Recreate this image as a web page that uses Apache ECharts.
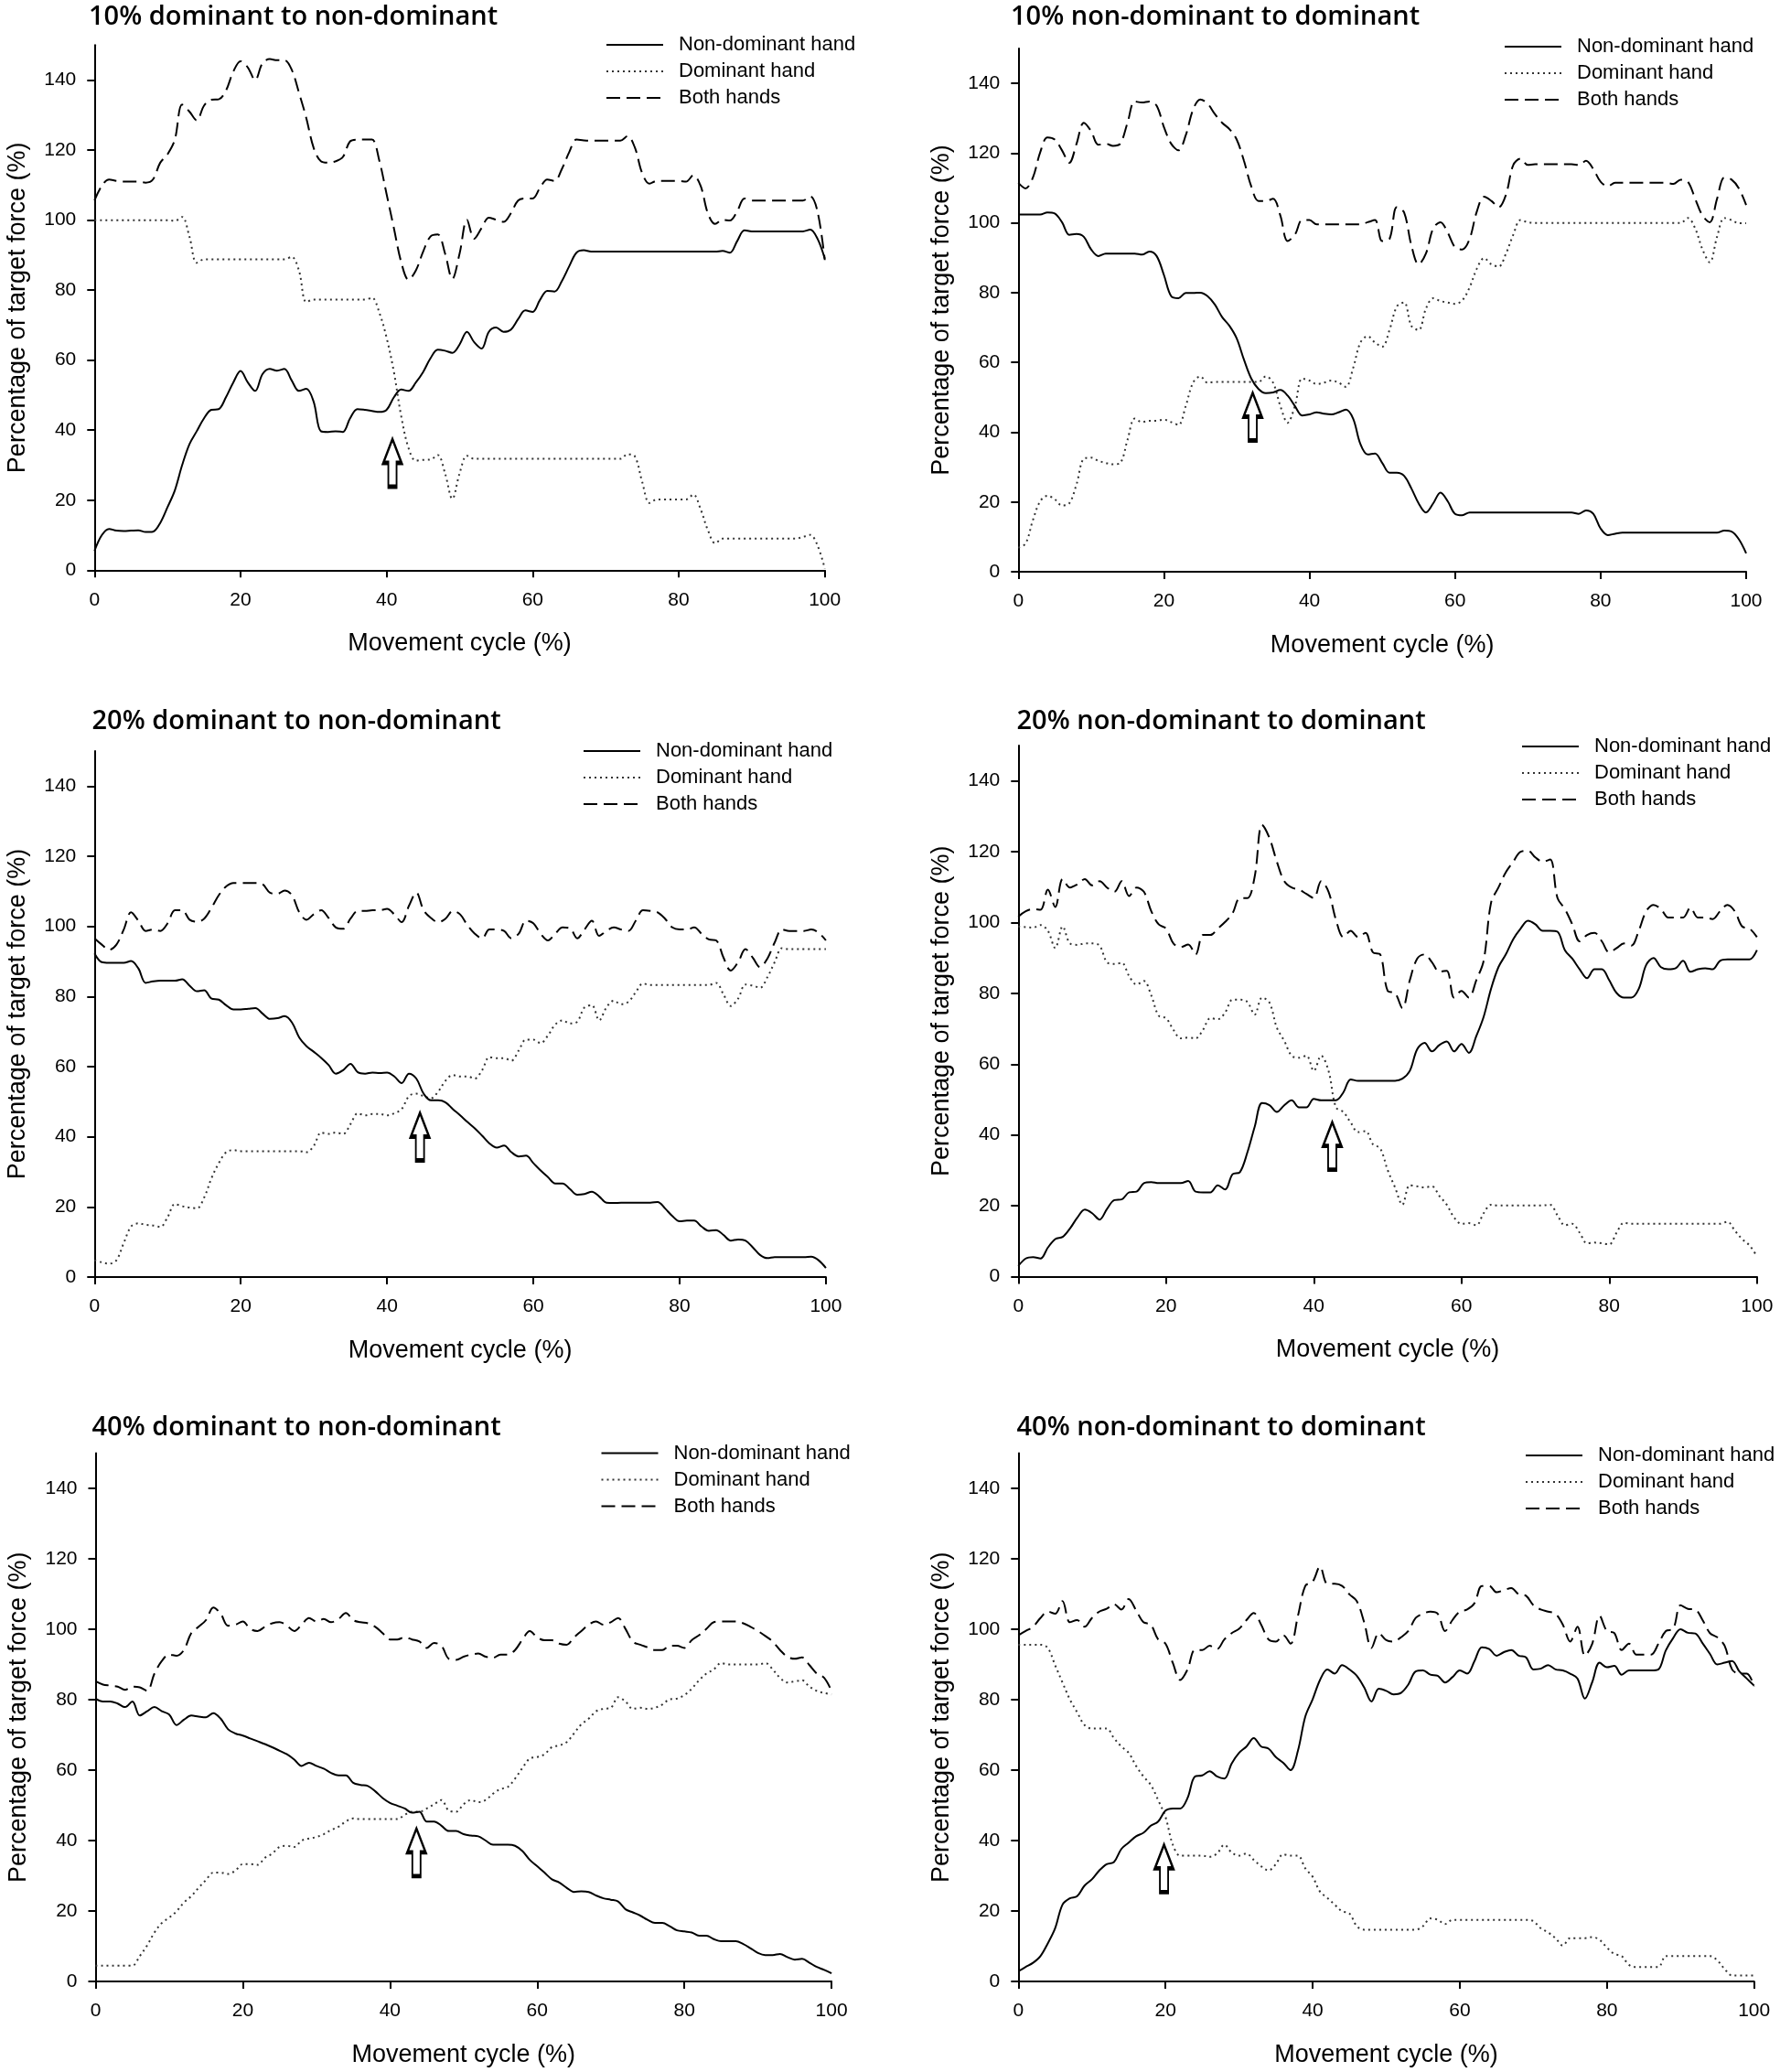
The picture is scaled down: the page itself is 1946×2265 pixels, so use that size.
<!DOCTYPE html>
<html><head><meta charset="utf-8">
<script src="https://cdn.jsdelivr.net/npm/echarts@6/dist/echarts.min.js"></script>
<style>html,body{margin:0;padding:0;background:#fff}#c{width:1946px;height:2265px}</style>
</head><body><div id="c"></div>
<script>
// ---------------- DATA ----------------
const cycle = [0,1,2,3,4,5,6,7,8,9,10,11,12,13,14,15,16,17,18,19,20,21,22,23,24,25,26,27,28,29,30,31,32,33,34,35,36,37,38,39,40,41,42,43,44,45,46,47,48,49,50,51,52,53,54,55,56,57,58,59,60,61,62,63,64,65,66,67,68,69,70,71,72,73,74,75,76,77,78,79,80,81,82,83,84,85,86,87,88,89,90,91,92,93,94,95,96,97,98,99,100];
const titles = ['10% dominant to non-dominant','10% non-dominant to dominant','20% dominant to non-dominant','20% non-dominant to dominant','40% dominant to non-dominant','40% non-dominant to dominant'];
const seriesNames = ['Non-dominant hand','Dominant hand','Both hands'];
const xTicks = [0,20,40,60,80,100];
const yTicks = [0,20,40,60,80,100,120,140];

const nd1 = [5.5,10,11.8,11.3,11.2,11.3,11.4,10.9,11,13.5,
 18,22.8,30,36,39.7,43.4,45.8,46,49.4,53.6,
 56.9,53.6,51.2,56,57.5,57,57.5,54.2,51.2,51.8,
 48.2,39.7,39.5,39.7,39.5,43.4,46,45.8,45.5,45.2,
 45.8,49.4,51.6,51.2,53.6,56.6,60.5,63,62.7,62.1,
 64.5,68.1,65.1,63.3,68.1,69.3,68.1,68.7,71.7,74.2,
 73.8,77.2,79.8,79.6,82.6,86.8,90.7,91.4,91,91,
 91,91,91,91,91,91,91,91,91,91,
 91,91,91,91,91,91,91.2,90.7,94,97.1,
 96.8,96.8,96.8,96.8,96.8,96.8,96.8,96.8,97.3,94.7,
 89];
const dom1 = [100,100,100,100,100,100,100,100,100,100,
 100,99.8,100.9,95.3,87.8,88.8,88.8,88.8,88.8,88.8,
 88.8,88.8,88.8,88.8,88.8,88.8,88.8,89.5,85.6,76.6,
 77.3,77.3,77.3,77.3,77.3,77.3,77.3,77.3,77.8,73.6,
 66.4,56.6,44,34.9,31.3,31.5,31.6,32.9,27.7,20.4,
 27.7,32.7,31.8,31.8,31.8,31.8,31.8,31.8,31.8,31.8,
 31.8,31.8,31.8,31.8,31.8,31.8,31.8,31.8,31.8,31.8,
 31.8,31.8,31.8,33.1,32.5,25.2,19.2,20.2,20.2,20.2,
 20.2,20.2,21.6,17.4,11.4,7.7,9,9,9,9,
 9,9,9,9,9,9,9,9.5,10.1,7.1,
 0.5];
const both1 = [105.6,109.8,111.6,111.2,111,111,111,110.7,111.6,116.4,
 118.8,123,133,131,128.5,132.7,134.4,134.5,137,142.4,
 145.4,143.6,140,144.8,146,145.7,145.7,143,136.4,129.2,
 120.7,116.8,116.4,116.8,118,122.5,123,123,123,117,
 107.4,97.7,88,83,85.6,91,95.3,95.9,90.5,83.2,
 90.5,100.1,94.7,97.7,100.7,100.1,99.5,101.9,105.6,106.2,
 106.2,109.2,111.6,111.2,114.6,119.4,123,122.8,122.7,122.7,
 122.7,122.7,122.7,124,120.7,113.4,110.4,111.2,111.2,111.2,
 111.2,111,112.8,109.8,101.9,98.9,100.1,99.9,102.5,106.2,
 105.6,105.6,105.6,105.6,105.6,105.6,105.6,105.6,106.8,102.5,
 88.6];

const nd2 = [102.4,102.4,102.4,102.4,103,102.7,100.2,96.6,96.8,96,
 92.4,90.5,91.2,91.2,91.2,91.2,91.2,90.9,91.8,90.5,
 85.1,79,78.4,79.9,79.9,80,79,76.6,73,70.5,
 66.9,60.8,55.4,52.4,51.2,51.4,52.1,50.5,47.5,44.8,
 45.1,45.7,45.3,45.1,45.7,46.5,43.9,36.6,33.6,33.9,
 31.2,28.4,28.4,27.5,23.9,19.6,17,19.6,22.7,20.2,
 16.6,16.2,17,17,17,17,17,17,17,17,
 17,17,17,17,17,17,17,16.6,17.6,16.6,
 12.4,10.5,10.9,11.2,11.2,11.2,11.2,11.2,11.2,11.2,
 11.2,11.2,11.2,11.2,11.2,11.2,11.2,11.8,11.5,9.3,
 5.3];
const dom2 = [6.9,8.1,14.8,20.2,21.8,20.8,19,19.6,25.1,32.4,
 32.7,31.8,31.2,30.8,31.2,37.8,43.9,42.9,43.3,43.3,
 43.6,42.9,42.1,47.5,54.2,56,54.2,54.4,54.4,54.4,
 54.4,54.4,54.4,54.4,56,54.2,47.5,42.7,47.5,55.4,
 54.8,53.8,54.2,54.8,54.2,53,58.4,65.7,67.5,65.7,
 64.5,69.3,76,77.2,70.5,69.3,75.4,78.4,77.6,77.2,
 76.8,77.8,81.5,86.9,89.9,88.1,87.5,91.2,96.6,100.8,
 100.2,100,100,100,100,100,100,100,100,100,
 100,100,100,100,100,100,100,100,100,100,
 100,100,101.4,98.4,92.4,88.7,96,101.4,100.8,99.9,
 99.9];
const both2 = [111.5,109.9,113,120.2,124.5,123.9,120.8,117.2,122.7,128.7,
 126.3,122.4,122.7,122.1,122.7,128.7,134.8,134.5,134.8,133.6,
 127.5,122.7,120.8,125.1,132.4,135.4,134.2,131.2,128.7,126.9,
 123.9,117.8,110.5,106.3,106.3,106.9,102.1,94.8,96.6,100.8,
 100.8,99.6,99.6,99.6,99.6,99.6,99.6,99.6,100.2,100.8,
 94.8,95.4,104.5,103,93.6,88.1,91.2,98.4,100.2,97.2,
 93,92.4,95.4,103.3,107.5,106.3,104.5,108.1,116.6,118.4,
 116.6,116.8,116.8,116.8,116.8,116.8,116.8,116.6,117.8,115.4,
 111.8,110.5,111.5,111.5,111.5,111.5,111.5,111.5,111.5,111.5,
 111.2,112.4,111.8,106.9,102.1,100.2,106.9,113,112.4,109.9,
 105.1];

const nd3 = [92.3,89.8,89.6,89.6,89.6,90.1,88,83.9,84.3,84.5,
 84.5,84.5,84.9,83.1,81.5,81.8,79.4,79.1,77.5,76.3,
 76.3,76.5,76.7,75.1,73.6,73.8,74.4,72.6,68.3,65.8,
 64.2,62.5,60.5,58,59,60.8,58.4,58,58.3,58.2,
 58.3,57.2,55.3,58,56.6,52.3,50.4,50.4,49.8,47.9,
 46.1,44.2,42.4,40.3,38.1,36.9,37.5,35.6,34.4,34.6,
 32.5,30.4,28.5,26.7,26.7,25.1,23.5,23.7,24.3,23,
 21.2,21.1,21.2,21.2,21.2,21.2,21.2,21.4,19.6,17.4,
 15.9,16.1,16.1,14.4,13.2,13.4,12,10.4,10.7,10.4,
 8.5,6.3,5.4,5.7,5.7,5.7,5.7,5.7,5.8,4.8,
 2.6];
const dom3 = [4.8,4.2,3.8,4.8,9.7,14.4,15.3,14.9,14.7,14.3,
 17.1,20.8,20.2,19.8,19.6,22.7,28.2,32.5,35.6,36.2,
 35.9,35.9,35.9,35.9,35.9,35.9,35.9,35.9,35.9,35.6,
 37.5,41.2,40.8,41.2,40.8,43.6,46.7,46.1,46.5,46.5,
 46.1,46.7,47.9,51.6,52.3,51.6,51,52.9,56,57.6,
 57.2,57.2,56.6,59,62.7,62.4,62.4,61.7,64.6,67.7,
 67.7,66.7,68.9,72,73.2,72.3,72.8,76.9,77.5,73.2,
 76.9,78.8,77.8,78.5,81.2,83.7,83.3,83.3,83.3,83.3,
 83.3,83.3,83.3,83.3,83.3,83.9,80.6,77.3,79.4,83.4,
 83.1,82.5,85.5,89.8,93.8,93.5,93.5,93.5,93.5,93.5,
 93.5];
const both3 = [96.6,94.8,93.3,94.8,99.1,104,101.6,98.7,99.1,98.7,
 100.9,104.6,104.6,101.9,101.3,102.2,105.3,108.9,111.4,112.4,
 112.4,112.4,112.4,112,109.6,109.3,110.2,108.9,104,101.9,
 103.5,104.6,102.4,99.7,99.3,102.2,104.4,104.4,104.6,104.6,
 105,103.4,101.2,105.9,109.6,104.6,102.4,101.2,102.2,104.4,
 103.4,100.3,97.9,96.6,99.1,99.1,98.7,96.6,97.9,101.6,
 100.9,97.9,96,97.9,99.7,99.5,96.6,99.1,101.6,97.3,
 98.7,99.7,99.1,98.7,101.6,104.6,104.4,104,102.2,99.7,
 99.1,99.1,99.7,97.9,96.3,96,91.1,87.4,89.8,93.5,
 91.1,88.4,90.8,95.4,99.1,98.7,98.7,98.7,99.1,98.2,
 96];

const nd4 = [3,5.1,5.5,5.1,8.2,10.6,11.2,13.6,16.7,18.9,
 17.9,16.1,19.1,21.6,21.8,23.8,24,26.4,26.7,26.4,
 26.4,26.4,26.4,27,24,23.8,23.8,25.8,24.6,28.9,
 29.5,35,42.3,49,48.4,46.5,48.4,49.8,47.8,47.8,
 50.2,49.8,49.8,49.8,52,55.7,55.3,55.3,55.3,55.3,
 55.3,55.3,55.9,58.1,64.2,66,63.6,65.4,66.4,63.6,
 65.7,63.2,67.9,73.4,81.3,87.4,91,95.3,98.3,100.5,
 99.5,97.7,97.7,97.4,92.2,89.8,86.8,84.3,86.8,86.8,
 83.7,80.1,78.8,78.8,81.3,88,90,87.4,86.8,87.1,
 89.2,86.1,86.8,87.1,86.8,89.2,89.6,89.6,89.6,89.6,
 92.2];
const dom4 = [98.9,98.7,98.6,99.3,97.7,92.8,98.9,94.1,93.7,94.1,
 94.1,93.5,88.8,88.3,88.6,84.9,82.5,83.5,79.4,73.7,
 73,69.7,67.3,67.5,67.3,69.7,73,72.7,74.6,78.2,
 78.2,77.6,74,78.8,77.4,70.3,66.6,62.4,61.8,62.4,
 58.1,62.4,58.1,47.8,46.5,43.5,40.8,41.1,37.4,36.2,
 30.1,25.2,20.3,25.8,25.5,25.2,25.5,22.8,20.3,16.7,
 14.9,15.1,14.5,17.9,20.3,20.1,20.1,20.1,20.1,20.1,
 20.1,20.1,20.3,17.3,14.5,14.9,12.4,9.4,9.6,9.4,
 9.1,12.4,15.2,14.9,14.9,14.9,14.9,14.9,14.9,14.9,
 14.9,14.9,14.9,14.9,14.9,14.9,15.5,13,10.6,8.8,
 5.7];
const both4 = [101.7,103.2,103.8,103.6,109.3,104.4,112.3,109.9,110.8,112.3,
 110.5,111.7,109.9,108.7,111.7,107.5,109.9,108.7,103.2,99.5,
 98.3,94.1,93.1,93.8,91,96.5,96.5,98.3,100.2,102.6,
 106.9,106.9,113,127.6,123.9,117.2,111.7,109.9,109.3,108.1,
 106.9,111.7,108.7,100.8,95.9,97.7,95.9,97.1,91.6,91,
 80.7,80.1,75.8,83.7,89.8,91,88.8,86.1,86.4,78.8,
 80.7,78.8,83.7,89.2,105.6,109.9,114.2,117.2,120,120.3,
 118.4,117.2,117.8,106.9,103.8,99.5,94.7,96.5,97.1,94.7,
 91.6,92.8,94.1,93.5,97.7,103.2,105,103.8,101.4,101.4,
 101.4,104.2,101.4,101.4,101,103.2,105,103.2,98.9,98.3,
 95.9];

const nd5 = [80.3,79.5,79.5,78.9,77.9,79.5,75.5,76.7,77.9,76.7,
 75.8,72.8,74.3,75.5,75.2,75,76.2,74.6,71.6,70.4,
 69.8,69,68.2,67.4,66.5,65.5,64.5,63,61.2,62.1,
 61.2,60.4,59.2,58.5,58.5,56.4,55.8,55.5,54,52.1,
 50.7,49.9,49.1,47.9,48.2,45.4,45.4,44.2,42.7,42.7,
 41.8,41.4,41.2,40,38.8,38.8,38.8,38.5,37,34.5,
 32.7,30.9,29,28.1,26.6,25.4,25.6,25.4,24.4,23.6,
 23.2,22.7,20.5,19.6,18.7,17.5,16.6,16.6,15.7,14.5,
 14.2,13.9,13,13,12,11.4,11.4,11.4,10.6,9.4,
 8.1,7.5,7.5,7.8,6.9,6.2,6.4,5.3,4.1,3.3,
 2.3];
const dom5 = [4.5,4.5,4.5,4.5,4.5,4.5,7.2,10.2,13.9,16.6,
 18.1,19.9,22.4,24.2,26.6,28.8,30.9,30.9,30.5,31.5,
 33.3,33.3,33.1,35.1,36.3,38.2,38.5,38.2,40,40.6,
 41,41.8,43,43.9,45.4,46.3,46.1,46.1,46.1,46.1,
 46.1,46.1,47.3,48.2,48.2,49.1,50.3,51.5,48.5,48.2,
 50.3,51.5,50.9,51.5,53.3,54.6,55.2,57.6,60.6,63.3,
 63.7,64.5,66.5,67,67.9,70.4,73,74.6,76.7,77.4,
 77.7,80.7,79.5,77.4,77.7,77.4,77.7,78.6,80.1,80.3,
 81.3,83.1,85.5,87.4,88.6,90.4,90,90,90,90,
 90,90.4,88.6,86.2,84.9,85.2,85.5,83.7,82.5,81.9,
 81.5];
const both5 = [85.2,84.3,84,83.7,82.8,83.7,83.5,82.5,87.4,91,
 92.8,92.5,94.1,98.9,100.7,102.6,106.2,104.4,101,101.3,
 102.2,100.1,99.5,100.7,101.7,102,101,99.5,101.3,103.2,
 102.2,102.9,102,102.9,104.6,102.6,102,101.7,100.7,98.9,
 97.1,97.1,97.7,97.1,96.5,94.7,96.1,95.3,91.6,91.3,
 92.2,92.8,93.1,92.2,91.9,92.8,92.8,94.1,97.1,99.5,
 97.7,96.9,96.9,95.9,95.6,97.7,99.5,101.3,102.2,101.3,
 102,103.2,100.1,96.5,95.6,94.9,94.1,94.1,95.3,95.3,
 94.7,96.9,98.3,100.1,102,102.2,102.2,102.2,101.7,100.7,
 99.5,98.1,96.5,94.1,92.2,91.6,92,89.8,87.4,86.2,
 82.5];

const nd6 = [2.9,4.1,5.3,7.2,10.8,15.1,21.8,23.6,24.2,27.2,
 29,31.5,33.3,33.9,37.6,39.4,41.2,42.2,44.2,45.4,
 48.5,49.1,49.1,52.1,58.2,58.5,59.7,58.2,57.6,61.9,
 64.9,66.7,69.1,66.7,66.1,63.7,62.1,60,65.5,75.2,
 80.1,85.6,88.6,87.4,89.8,88.6,86.8,83.5,79.5,83.1,
 82.5,81.5,81.9,84.3,88,88.3,87.1,86.8,84.9,86.4,
 88.3,87.4,91,94.9,94.4,92.5,93.5,94.1,92.5,92,
 88.6,88.8,89.8,88.6,88.3,87.4,86,80.3,85,90.5,
 89.2,89.6,87.1,88.3,88.3,88.3,88.3,88.6,94,97.5,
 100,99,98.8,96,93,90,90.5,91,88,86,
 84];
const dom6 = [95.6,95.6,95.6,95.6,94.7,89.8,84.9,80.1,76.4,72.8,
 71.8,71.8,71.8,69.1,66.7,64.9,61.2,58.2,55.8,51.5,
 46.7,38.8,35.7,35.7,35.7,35.7,35.4,36.3,38.8,36.6,
 35.7,36.3,34.5,32.7,31.5,33.3,36.1,35.7,35.7,32.1,
 29.7,25.5,23.7,21.8,19.9,19.3,15.7,14.7,14.7,14.7,
 14.7,14.7,14.7,14.7,14.7,15.7,17.9,17.5,16.3,17.5,
 17.5,17.5,17.5,17.5,17.5,17.5,17.5,17.5,17.5,17.5,
 17.1,15.1,13.9,12.3,10.2,12.3,12.3,12.3,12.6,11.8,
 9.6,7.8,7.2,4.7,4.1,4.1,4.1,4.1,7.2,7.2,
 7.2,7.2,7.2,7.2,7.2,6,3.5,1.7,1.7,1.7,
 1.7];
const both6 = [98.3,99.5,100.7,103.2,105,104.4,108,102,102.6,100.7,
 103.2,105,105.8,107.1,105.6,108.6,105.4,102,101.3,97.1,
 95.9,90.4,85.6,88.6,94.1,94.1,95.3,94.4,97.1,98.9,
 100.1,102.6,104.6,101.3,97.1,96.5,98.3,95.9,103.8,112.3,
 113.5,117.8,112.9,112.9,112.3,109.9,108,102,94.7,98.9,
 96.9,96.5,97.7,99.5,103.2,104.4,105,104.4,99.5,102.6,
 105,105.6,107.4,112.3,112.3,110.5,111.1,111.7,109.9,109.5,
 106.8,105.6,105,104.4,101.3,96.5,100.7,92.5,95.9,103.8,
 99.5,98.9,94.1,95.9,92.8,92.8,92.8,95.9,99.5,100.1,
 106.8,105.8,105.6,102.6,98.9,97.7,95.3,88.6,87.4,87.4,
 83.7];

// crossover arrows (x position, tip value, base value)
const arrowX = [40.8, 32.2, 44.5, 42.5, 43.6, 19.8];
const arrowTip = [37.7, 51.5, 47.1, 43.6, 43.4, 38.8];
const arrowBase = [23.6, 37.4, 33.0, 30.2, 29.9, 25.4];

// ---------------- LAYOUT ----------------
const ndAll = [nd1, nd2, nd3, nd4, nd5, nd6];
const domAll = [dom1, dom2, dom3, dom4, dom5, dom6];
const bothAll = [both1, both2, both3, both4, both5, both6];
const layout = [
  {left:103.3, top:49.3, width:798.4, height:574},
  {left:1113.3, top:53, width:795.7, height:572},
  {left:103.3, top:821, width:799.6, height:575},
  {left:1113.3, top:815, width:807.5, height:580.5},
  {left:104.5, top:1588.5, width:804.6, height:577.5},
  {left:1113.3, top:1588.5, width:804.4, height:577.5}
];
const titlePos = [[97,4],[1105,4],[100.5,774],[1111.5,774],[100.5,1546],[1111.5,1546]];
const legendPos = [[662,38],[1644,40],[637,810],[1663,805],[656.5,1577.5],[1667,1580]];

const FONT = '"Liberation Sans", Arial, sans-serif';
const zip = (xs, ys) => xs.map((x, i) => [x, ys[i]]);
const arrowPath = 'path://M10,0 L20,26 L14.5,26 L14.5,52 L5.5,52 L5.5,26 L0,26 Z';

const grids = [], xAxes = [], yAxes = [], series = [], titleArr = [], legends = [];
for (let i = 0; i < 6; i++) {
  grids.push(Object.assign({containLabel:false, outerBoundsMode:'none'}, layout[i]));
  titleArr.push({
    text: titles[i], left: titlePos[i][0], top: titlePos[i][1], padding: 0,
    textStyle: {fontFamily: '"Open Sans", sans-serif', fontWeight: 600, fontSize: 29, color: '#000'}
  });
  legends.push({
    orient: 'vertical', left: legendPos[i][0], top: legendPos[i][1], padding: 0,
    itemWidth: 62, itemHeight: 14, itemGap: 7, selectedMode: false,
    data: seriesNames.slice(),
    itemStyle: {opacity: 0},
    textStyle: {fontFamily: FONT, fontSize: 22, color: '#000', lineHeight: 22, padding: [0,0,0,12]}
  });
  xAxes.push({
    gridIndex: i, type: 'value', min: 0, max: 100, interval: 20,
    name: 'Movement cycle (%)', nameLocation: 'middle', nameGap: 67,
    nameTextStyle: {fontFamily: FONT, fontSize: 27, color: '#000'},
    axisLine: {show: true, onZero: false, lineStyle: {color: '#000', width: 2}},
    axisTick: {show: true, inside: false, length: 8, lineStyle: {color: '#000', width: 2}, customValues: xTicks},
    axisLabel: {fontFamily: FONT, fontSize: 21, color: '#000', margin: 22, customValues: xTicks},
    splitLine: {show: false}
  });
  yAxes.push({
    gridIndex: i, type: 'value', min: 0, max: 150, interval: 10,
    name: 'Percentage of target force (%)', nameLocation: 'middle', nameGap: 70, nameRotate: 90,
    nameTextStyle: {fontFamily: FONT, fontSize: 27, color: '#000'},
    axisLine: {show: true, onZero: false, lineStyle: {color: '#000', width: 2}},
    axisTick: {show: true, inside: false, length: 8, lineStyle: {color: '#000', width: 2}, customValues: yTicks},
    axisLabel: {fontFamily: FONT, fontSize: 21, color: '#000', margin: 20, customValues: yTicks},
    splitLine: {show: false}
  });
  const common = {type: 'line', xAxisIndex: i, yAxisIndex: i, symbol: 'none', showSymbol: false,
                  smooth: 0.35, animation: false, silent: true};
  series.push(Object.assign({}, common, {
    name: seriesNames[0], data: zip(cycle, ndAll[i]), z: 3,
    itemStyle: {color: '#000'},
    lineStyle: {color: '#000', width: 2, type: 'solid'},
    markPoint: {
      silent: true, animation: false,
      symbol: arrowPath, symbolSize: [20, 52],
      itemStyle: {color: '#fff', borderColor: '#000', borderWidth: 3},
      label: {show: false},
      data: [{coord: [arrowX[i], (arrowTip[i] + arrowBase[i]) / 2]}]
    }
  }));
  series.push(Object.assign({}, common, {
    name: seriesNames[1], data: zip(cycle, domAll[i]), z: 2,
    itemStyle: {color: '#333'},
    lineStyle: {color: '#333', width: 2, type: [2, 4]}
  }));
  series.push(Object.assign({}, common, {
    name: seriesNames[2], data: zip(cycle, bothAll[i]), z: 2,
    itemStyle: {color: '#000'},
    lineStyle: {color: '#000', width: 2, type: [15, 7]}
  }));
}

const chart = echarts.init(document.getElementById('c'), null, {renderer: 'canvas', width: 1946, height: 2265});
chart.setOption({
  backgroundColor: '#fff',
  animation: false,
  title: titleArr,
  legend: legends,
  grid: grids,
  xAxis: xAxes,
  yAxis: yAxes,
  series: series
});
</script>
</body></html>
